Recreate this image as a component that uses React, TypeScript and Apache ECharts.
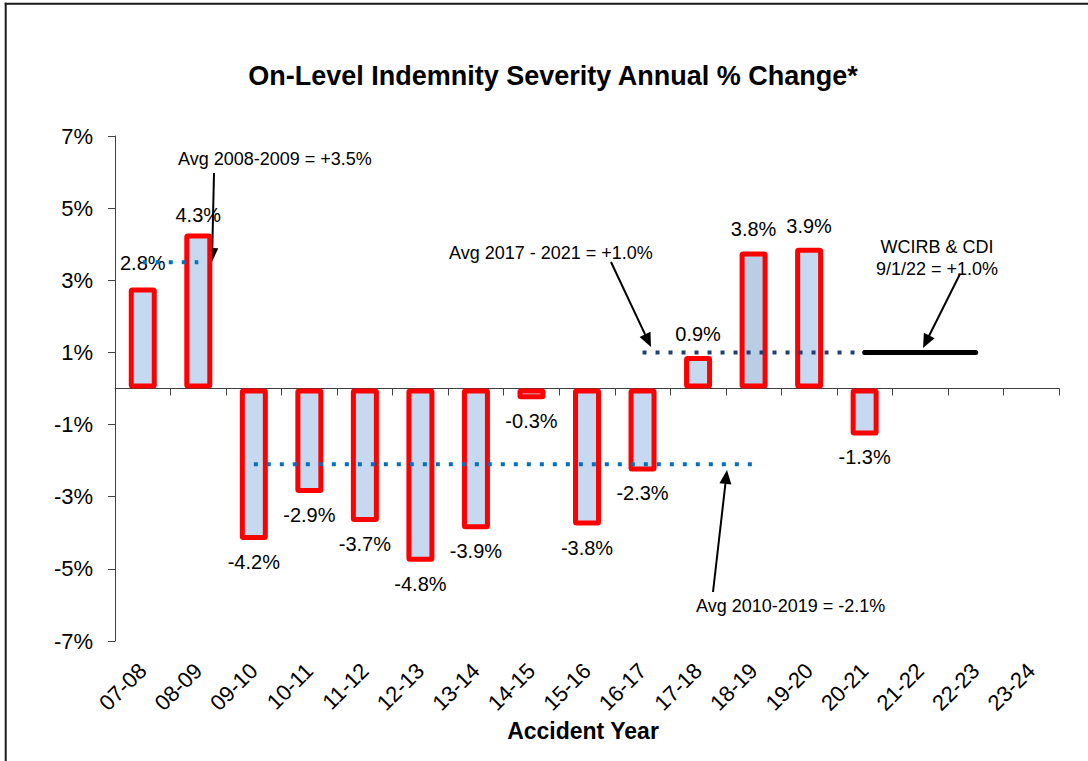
import React, { useEffect, useRef } from "react";
import * as echarts from "echarts";

const categories = ["07-08","08-09","09-10","10-11","11-12","12-13","13-14","14-15","15-16","16-17","17-18","18-19","19-20","20-21","21-22","22-23","23-24"];
const changeValues = [2.8, 4.3, -4.2, -2.9, -3.7, -4.8, -3.9, -0.3, -3.8, -2.3, 0.9, 3.8, 3.9, -1.3, null, null, null];
const avg2008_2009 = [3.5, 3.5, null, null, null, null, null, null, null, null, null, null, null, null, null, null, null];
const avg2010_2019 = [null, null, -2.1, -2.1, -2.1, -2.1, -2.1, -2.1, -2.1, -2.1, -2.1, -2.1, null, null, null, null, null];
const avg2017_2021 = [null, null, null, null, null, null, null, null, null, 1.0, 1.0, 1.0, 1.0, 1.0, null, null, null];
const wcirbCdi = [null, null, null, null, null, null, null, null, null, null, null, null, null, 1.0, 1.0, 1.0, null];
const yTickValues = [-7, -5, -3, -1, 1, 3, 5, 7];

const FONT = "'Liberation Sans', Arial, sans-serif";

function arrow(x1: number, y1: number, x2: number, y2: number) {
  const dx = x2 - x1, dy = y2 - y1;
  const len = Math.hypot(dx, dy);
  const ux = dx / len, uy = dy / len;
  const headLen = 14, hw = 6;
  const bx = x2 - ux * headLen, by = y2 - uy * headLen;
  const px = -uy, py = ux;
  return {
    type: "group",
    children: [
      { type: "line", shape: { x1, y1, x2: bx + ux * 2, y2: by + uy * 2 }, style: { stroke: "#000", lineWidth: 2 } },
      { type: "polygon", shape: { points: [[x2, y2], [bx + px * hw, by + py * hw], [bx - px * hw, by - py * hw]] }, style: { fill: "#000" } },
    ],
  };
}

function annText(x: number, y: number, text: string, align = "left") {
  return {
    type: "text",
    x, y,
    style: { text, fill: "#000", font: `18px ${FONT}`, textAlign: align, textVerticalAlign: "middle", lineHeight: 22 },
  };
}

export default function App() {
  const ref = useRef<HTMLDivElement>(null);
  useEffect(() => {
    if (!ref.current) return;
    const chart = echarts.init(ref.current, null, { renderer: "svg" });
    const barData = changeValues.map((v, i) => {
      if (v == null) return null;
      const item: any = { value: v };
      if (categories[i] === "18-19") item.itemStyle = { color: "#b9cde5" };
      if (categories[i] === "07-08") item.label = { distance: 15 };
      if (categories[i] === "08-09") item.label = { distance: 8 };
      return item;
    });
    const option: any = {
      animation: false,
      backgroundColor: "#fff",
      grid: { left: 115, right: 29, top: 136, bottom: 120, containLabel: false, outerBoundsMode: "none" },
      xAxis: [
        {
          type: "category",
          data: categories,
          position: "bottom",
          axisLine: { show: true, onZero: true, lineStyle: { color: "#404040", width: 1 } },
          axisTick: { show: true, length: 7, lineStyle: { color: "#404040" } },
          axisLabel: { show: false },
          splitLine: { show: false },
        },
        {
          type: "category",
          data: categories,
          position: "bottom",
          axisLine: { show: false, onZero: false },
          axisTick: { show: false },
          axisLabel: { show: true, rotate: 45, margin: 26, fontSize: 22, color: "#000", fontFamily: FONT, interval: 0 },
          splitLine: { show: false },
        },
      ],
      yAxis: {
        type: "value",
        min: -7,
        max: 7,
        axisLine: { show: true, lineStyle: { color: "#404040", width: 1 } },
        axisTick: { show: true, length: 7, customValues: yTickValues, lineStyle: { color: "#404040" } },
        axisLabel: { show: true, customValues: yTickValues, margin: 22, fontSize: 22, color: "#000", fontFamily: FONT, formatter: (v: number) => `${v}%` },
        splitLine: { show: false },
      },
      series: [
        {
          type: "bar",
          xAxisIndex: 0,
          data: barData,
          barWidth: 28,
          itemStyle: { color: "#c6d9f1", borderColor: "#ff0000", borderWidth: 5, borderRadius: 1 },
          label: {
            show: true,
            position: "outside",
            distance: 12,
            fontSize: 20,
            color: "#000",
            fontFamily: FONT,
            formatter: (p: any) => `${Number(p.value).toFixed(1)}%`,
          },
          z: 2,
        },
        {
          type: "line", xAxisIndex: 0, data: avg2008_2009, symbol: "none", connectNulls: false,
          lineStyle: { color: "#0070c0", width: 4, type: [4, 9], cap: "butt" }, z: 3,
        },
        {
          type: "line", xAxisIndex: 0, data: avg2010_2019, symbol: "none",
          lineStyle: { color: "#0070c0", width: 4, type: [4, 9], cap: "butt" }, z: 3,
        },
        {
          type: "line", xAxisIndex: 0, data: avg2017_2021, symbol: "none",
          lineStyle: { color: "#203f73", width: 4, type: [4, 9], cap: "butt" }, z: 3,
        },
        {
          type: "line", xAxisIndex: 0, data: wcirbCdi, symbol: "none",
          lineStyle: { color: "#000", width: 5, type: "solid", cap: "round" }, z: 4,
        },
      ],
      graphic: [
        { type: "line", shape: { x1: 5.7, y1: 2.7, x2: 5.7, y2: 761 }, style: { stroke: "#1a1a1a", lineWidth: 2 } },
        { type: "line", shape: { x1: 4.7, y1: 3.7, x2: 1088, y2: 3.7 }, style: { stroke: "#1a1a1a", lineWidth: 2 } },
        {
          type: "text", x: 553, y: 76,
          style: { text: "On-Level Indemnity Severity Annual % Change*", fill: "#000", font: `bold 27px ${FONT}`, textAlign: "center", textVerticalAlign: "middle" },
        },
        {
          type: "text", x: 583, y: 731,
          style: { text: "Accident Year", fill: "#000", font: `bold 23px ${FONT}`, textAlign: "center", textVerticalAlign: "middle" },
        },
        annText(178, 159, "Avg 2008-2009 = +3.5%"),
        annText(449, 253, "Avg 2017 - 2021 = +1.0%"),
        annText(937, 258, "WCIRB & CDI\n9/1/22 = +1.0%", "center"),
        annText(696, 606, "Avg 2010-2019 = -2.1%"),
        arrow(214, 173, 212, 262),
        arrow(611, 262, 651, 347),
        arrow(960, 274, 923, 348),
        arrow(713, 592, 727, 470),
      ],
    };
    chart.setOption(option);
    return () => chart.dispose();
  }, []);
  return <div ref={ref} style={{ position: "fixed", left: 0, top: 0, width: 1088, height: 761, background: "#fff" }} />;
}
